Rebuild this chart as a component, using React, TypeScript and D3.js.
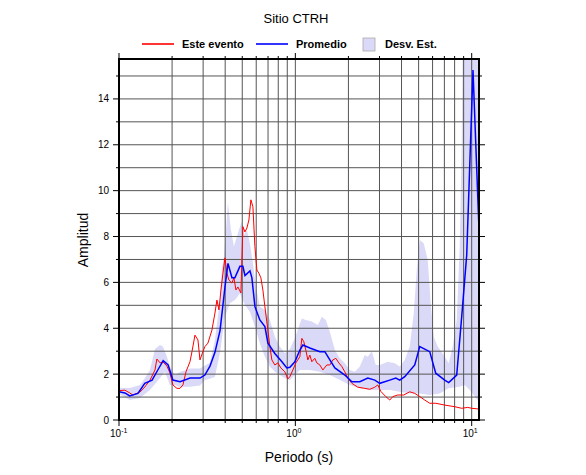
import React from "react";
import * as d3 from "d3";

// Periodo (s) / amplitud
const redT = [0.1, 0.108, 0.115, 0.12, 0.1315, 0.14, 0.15, 0.16, 0.164, 0.171, 0.1775, 0.187, 0.1945, 0.202, 0.213, 0.2216, 0.2305, 0.2397, 0.2526, 0.2593, 0.2696, 0.2804, 0.2878, 0.2992, 0.3071, 0.3193, 0.3365, 0.3499, 0.3592, 0.3687, 0.3785, 0.3885, 0.3988, 0.4093, 0.4201, 0.4369, 0.4484, 0.4603, 0.4724, 0.4913, 0.5042, 0.5176, 0.5312, 0.5453, 0.5597, 0.5745, 0.5897, 0.6053, 0.6212, 0.6376, 0.6545, 0.6718, 0.6986, 0.717, 0.736, 0.7653, 0.7959, 0.8276, 0.872, 0.9068, 0.9307, 0.9678, 1.0065, 1.0605, 1.0884, 1.1172, 1.1467, 1.177, 1.2081, 1.24, 1.2896, 1.3237, 1.3766, 1.4317, 1.5085, 1.5689, 1.6315, 1.6968, 1.7645, 1.835, 1.9083, 1.9845, 2.0907, 2.2611, 2.4764, 2.6433, 2.8214, 2.934, 3.0512, 3.2567, 3.4309, 3.5678, 3.8082, 4.118, 4.4529, 4.7543, 5.0746, 5.4166, 5.7816, 6.2523, 7.0307, 8.0109, 8.7767, 9.4928, 10.0, 10.96];
const redA = [1.28, 1.3, 1.18, 1.09, 1.22, 1.44, 1.74, 2.18, 2.66, 2.49, 2.53, 2.35, 2.05, 1.53, 1.38, 1.38, 1.53, 2.1, 2.54, 2.98, 3.7, 3.49, 2.62, 2.98, 3.2, 3.35, 3.92, 4.66, 5.23, 4.8, 5.67, 6.4, 7.07, 6.4, 6.1, 5.97, 6.2, 5.67, 5.8, 5.54, 8.43, 8.2, 8.37, 8.72, 9.6, 9.3, 7.56, 6.54, 6.4, 6.2, 5.67, 4.94, 3.92, 3.2, 2.62, 2.4, 2.49, 2.27, 2.1, 1.79, 1.89, 2.18, 2.49, 2.76, 3.56, 3.41, 3.05, 2.62, 2.83, 2.54, 2.69, 2.49, 2.4, 2.18, 2.4, 2.4, 2.62, 2.69, 2.49, 2.33, 2.1, 1.83, 1.6, 1.43, 1.38, 1.34, 1.43, 1.53, 1.25, 1.02, 0.87, 1.02, 1.09, 1.09, 1.23, 1.16, 1.02, 0.87, 0.73, 0.73, 0.65, 0.58, 0.51, 0.55, 0.51, 0.48];

const blueT = [0.1, 0.108, 0.115, 0.128, 0.14, 0.154, 0.166, 0.178, 0.19, 0.202, 0.222, 0.253, 0.288, 0.307, 0.328, 0.35, 0.374, 0.399, 0.415, 0.437, 0.454, 0.485, 0.504, 0.518, 0.553, 0.567, 0.59, 0.629, 0.672, 0.699, 0.765, 0.839, 0.895, 0.931, 0.994, 1.061, 1.103, 1.208, 1.377, 1.47, 1.569, 1.675, 1.908, 2.091, 2.321, 2.575, 2.821, 3.011, 3.431, 3.71, 3.909, 4.172, 4.754, 5.075, 5.782, 6.252, 7.031, 7.407, 8.222, 8.777, 9.37, 10.17, 10.96];
const blueA = [1.23, 1.18, 1.05, 1.16, 1.6, 1.74, 2.18, 2.59, 2.4, 1.74, 1.67, 1.83, 1.83, 1.96, 2.35, 2.95, 3.9, 5.8, 6.83, 6.2, 6.2, 6.7, 6.7, 6.3, 6.5, 6.2, 4.94, 4.36, 4.07, 3.35, 2.9, 2.54, 2.27, 2.3, 2.54, 3.05, 3.27, 3.14, 2.98, 2.98, 2.62, 2.27, 1.96, 1.67, 1.67, 1.83, 1.74, 1.6, 1.74, 1.83, 1.74, 1.89, 2.4, 3.2, 2.98, 2.04, 1.74, 1.63, 1.96, 4.5, 7.2, 15.26, 8.65];

const upT = [0.1, 0.115, 0.1315, 0.1404, 0.1498, 0.16, 0.1707, 0.1775, 0.187, 0.1945, 0.2076, 0.2216, 0.2526, 0.2878, 0.3279, 0.3499, 0.3735, 0.3834, 0.3936, 0.4147, 0.4312, 0.4484, 0.4662, 0.485, 0.4978, 0.5109, 0.5312, 0.5525, 0.5745, 0.5974, 0.6294, 0.6718, 0.717, 0.7653, 0.8169, 0.872, 0.9307, 0.9935, 1.0605, 1.0884, 1.1467, 1.24, 1.3411, 1.413, 1.4889, 1.5689, 1.6747, 1.7878, 1.9083, 2.037, 2.1743, 2.3207, 2.4764, 2.5752, 2.713, 2.8586, 3.0114, 3.3427, 3.6621, 3.9088, 4.1722, 4.4529, 4.6922, 4.88, 5.0746, 5.3462, 5.633, 5.8578, 6.0912, 6.418, 7.0307, 7.4072, 7.8046, 8.2222, 8.5507, 8.7767, 8.8924, 10.17, 10.96];
const upA = [1.4, 1.4, 1.53, 1.83, 2.18, 3.1, 3.27, 3.2, 2.76, 2.33, 1.96, 2.09, 2.25, 2.25, 2.5, 3.49, 5.23, 6.6, 7.12, 9.46, 8.29, 7.56, 8.0, 8.43, 8.65, 8.07, 8.29, 7.7, 6.83, 5.81, 4.94, 4.8, 4.36, 3.63, 3.2, 2.91, 3.1, 3.56, 4.2, 4.43, 4.36, 4.29, 4.14, 4.5, 4.36, 3.85, 3.05, 2.69, 2.47, 2.18, 2.1, 2.33, 2.83, 2.76, 3.0, 2.4, 2.4, 2.54, 2.47, 2.33, 2.62, 3.2, 4.65, 6.54, 7.85, 7.71, 6.98, 5.09, 3.63, 3.2, 2.76, 2.47, 3.2, 4.36, 7.56, 12.0, 17.0, 22.0, 20.0];

const loT = [0.1, 0.115, 0.1315, 0.1498, 0.1707, 0.1822, 0.1945, 0.2076, 0.2216, 0.2526, 0.2878, 0.3071, 0.3279, 0.3499, 0.3735, 0.3988, 0.4256, 0.4543, 0.485, 0.5176, 0.5525, 0.5897, 0.6294, 0.6718, 0.717, 0.7653, 0.8169, 0.872, 0.9307, 0.9935, 1.0605, 1.2081, 1.3766, 1.5689, 1.7878, 2.037, 2.3207, 2.6433, 3.0114, 3.4309, 3.9088, 4.4529, 5.0746, 5.7816, 6.588, 7.4072, 8.5507, 9.127, 9.7432, 10.264, 10.96];
const loA = [1.13, 0.87, 0.96, 1.31, 1.83, 2.09, 1.53, 1.53, 1.44, 1.45, 1.5, 1.74, 1.8, 1.89, 2.91, 4.5, 5.09, 5.23, 5.52, 5.0, 4.72, 4.07, 3.34, 2.76, 2.33, 2.1, 1.96, 1.82, 1.74, 1.96, 2.18, 2.18, 2.1, 1.96, 1.74, 1.53, 1.38, 1.31, 1.31, 1.31, 1.23, 1.16, 1.16, 1.09, 1.16, 1.38, 1.45, 1.53, 1.31, 1.09, 0.8];

const yLabels = [0, 2, 4, 6, 8, 10, 12, 14];
const decades = [0.1, 1, 10];
const decadeExp = ["-1", "0", "1"];

const W = 586;
const H = 475;
const left = 119, right = 479, top = 59, bottom = 420;
const font = "'Liberation Sans', Arial, Helvetica, sans-serif";

export default function App() {
  const x = d3.scaleLog().domain([0.1, 11]).range([left, right]);
  const y = d3.scaleLinear().domain([0, 15.74]).range([bottom, top]);

  const red = redT.map((t, i) => [t, redA[i]] as [number, number]);
  const blue = blueT.map((t, i) => [t, blueA[i]] as [number, number]);
  const up = upT.map((t, i) => [t, upA[i]] as [number, number]);
  const lo = loT.map((t, i) => [t, loA[i]] as [number, number]);

  const line = d3.line<[number, number]>().x((d) => x(d[0])).y((d) => y(d[1]));
  // banda: borde superior y luego el inferior al reves
  const bandPath = line(up)! + "L" + line(lo.slice().reverse())!.slice(1) + "Z";

  // lineas de la malla en x: 0.2..0.9, 1..9, 10
  const xGrid: number[] = [];
  [0.1, 1].forEach((d) => {
    for (let k = 2; k <= 10; k++) xGrid.push(+(d * k).toFixed(3));
  });
  const xMinor = xGrid.filter((v) => v !== 1 && v !== 10);
  const yGrid = d3.range(1, 16);

  return (
    <svg width={W} height={H} style={{ position: "absolute", left: 0, top: 0, background: "#fff" }} fontFamily={font}>
      <defs>
        <clipPath id="plot">
          <rect x={left} y={top} width={right - left} height={bottom - top} />
        </clipPath>
      </defs>

      <text x={296} y={23} textAnchor="middle" fontSize={13}>Sitio CTRH</text>

      {/* leyenda */}
      <g fontSize={11} fontWeight="bold">
        <line x1={142} x2={174} y1={44} y2={44} stroke="#ff0000" strokeWidth={1.6} />
        <text x={182} y={48}>Este evento</text>
        <line x1={256} x2={288} y1={44} y2={44} stroke="#0000ff" strokeWidth={1.6} />
        <text x={296} y={48}>Promedio</text>
        <rect x={363} y={38} width={12} height={13} fill="#dadaf8" stroke="#aaa" strokeWidth={0.8} />
        <text x={385} y={48}>Desv. Est.</text>
      </g>

      <path d={bandPath} fill="#dadaf8" stroke="none" clipPath="url(#plot)" />

      {/* malla */}
      <g stroke="#555" strokeWidth={1}>
        {xGrid.filter((v) => v < 11).map((v) => (
          <line key={"gx" + v} x1={x(v)} x2={x(v)} y1={top} y2={bottom} />
        ))}
        {yGrid.map((v) => (
          <line key={"gy" + v} x1={left} x2={right} y1={y(v)} y2={y(v)} />
        ))}
      </g>

      {/* marcas de ejes */}
      <g stroke="#000" strokeWidth={1}>
        {xMinor.map((v) => (
          <g key={"tx" + v}>
            <line x1={x(v)} x2={x(v)} y1={bottom} y2={bottom + 3} />
            <line x1={x(v)} x2={x(v)} y1={top} y2={top - 3} />
          </g>
        ))}
        {decades.map((v) => (
          <g key={"td" + v}>
            <line x1={x(v)} x2={x(v)} y1={bottom} y2={bottom + 6} />
            <line x1={x(v)} x2={x(v)} y1={top} y2={top - 6} />
          </g>
        ))}
        {d3.range(0, 16).map((v) => (
          <g key={"ty" + v}>
            <line x1={left} x2={left - (v % 2 === 0 ? 6 : 3)} y1={y(v)} y2={y(v)} />
            <line x1={right} x2={right + (v % 2 === 0 ? 6 : 3)} y1={y(v)} y2={y(v)} />
          </g>
        ))}
      </g>

      <g clipPath="url(#plot)" fill="none">
        <path d={line(red)!} stroke="#ff0000" strokeWidth={1} />
        <path d={line(blue)!} stroke="#0000ff" strokeWidth={1.5} />
      </g>

      <rect x={left} y={top} width={right - left} height={bottom - top} fill="none" stroke="#000" strokeWidth={2} />

      <g fontSize={10} textAnchor="end">
        {yLabels.map((v) => (
          <text key={"ly" + v} x={109} y={y(v) + 3.5}>{v}</text>
        ))}
      </g>

      <g fontSize={10}>
        {decades.map((v, i) => (
          <text key={"lx" + v} x={x(v) - 9} y={437}>
            10<tspan fontSize={7} dy={-4}>{decadeExp[i]}</tspan>
          </text>
        ))}
      </g>

      <text x={299} y={462} textAnchor="middle" fontSize={14}>Periodo (s)</text>
      <text transform="translate(88,240) rotate(-90)" textAnchor="middle" fontSize={14}>Amplitud</text>
    </svg>
  );
}
